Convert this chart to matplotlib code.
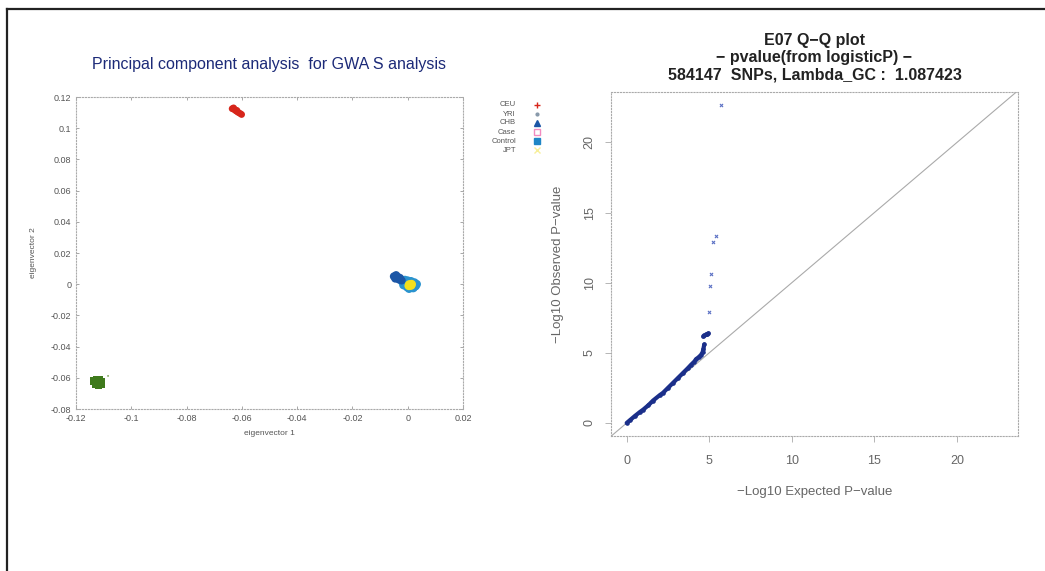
import numpy as np
import matplotlib.pyplot as plt
from matplotlib.lines import Line2D

plt.rcParams['font.family'] = ['Liberation Sans', 'DejaVu Sans']

# PCA clusters (eigenvector 1, eigenvector 2)
ceu_x = [-0.0635, -0.0630, -0.0626, -0.0622, -0.0617, -0.0612, -0.0606, -0.0601, -0.0628, -0.0618]
ceu_y = [0.1125, 0.1130, 0.1118, 0.1112, 0.1106, 0.1100, 0.1094, 0.1088, 0.1122, 0.1114]
yri_x = [-0.1135, -0.1125, -0.1115, -0.1108, -0.1130, -0.1118, -0.1110, -0.1122]
yri_y = [-0.0620, -0.0610, -0.0615, -0.0625, -0.0640, -0.0645, -0.0638, -0.0630]
yri_stray_x = [-0.1084]
yri_stray_y = [-0.0588]
chb_x = [-0.0050, -0.0042, -0.0035, -0.0028, -0.0045, -0.0032, -0.0022]
chb_y = [0.0050, 0.0058, 0.0046, 0.0040, 0.0036, 0.0030, 0.0024]
case_x = [0.0000, 0.0010, 0.0020]
case_y = [0.0000, -0.0005, -0.0010]
ctrl_x = [-0.0020, -0.0010, 0.0000, 0.0012, 0.0024, 0.0032, 0.0028, 0.0012, -0.0002, -0.0015, 0.0005, 0.0020]
ctrl_y = [0.0018, 0.0026, 0.0022, 0.0018, 0.0010, 0.0000, -0.0012, -0.0020, -0.0018, -0.0005, -0.0028, -0.0024]
jpt_x = [0.0006, 0.0012, 0.0004, 0.0014]
jpt_y = [-0.0002, -0.0008, -0.0010, 0.0000]

pca_xticks = [-0.12, -0.1, -0.08, -0.06, -0.04, -0.02, 0, 0.02]
pca_yticks = [0.12, 0.1, 0.08, 0.06, 0.04, 0.02, 0, -0.02, -0.04, -0.06, -0.08]

# Q-Q plot: (expected, observed) -log10 p along the main curve, then the outliers
qq_exp = [0.0, 0.2, 0.5, 0.8, 1.0, 1.3, 1.6, 2.0, 2.2, 2.5, 2.8, 3.1, 3.4, 3.7, 3.9,
          4.1, 4.2, 4.35, 4.5, 4.6, 4.65, 4.7]
qq_obs = [0.0, 0.2, 0.5, 0.78, 0.95, 1.25, 1.6, 1.98, 2.15, 2.5, 2.85, 3.2, 3.55, 3.9, 4.15,
          4.38, 4.55, 4.68, 4.85, 5.05, 5.3, 5.6]
qq_cluster_exp = [4.62, 4.7, 4.78, 4.86, 4.94]
qq_cluster_obs = [6.22, 6.30, 6.34, 6.36, 6.38]
out_exp = [4.97, 5.05, 5.13, 5.25, 5.43, 5.74]
out_obs = [7.88, 9.74, 10.62, 12.9, 13.3, 22.7]

fig = plt.figure(figsize=(10.45, 5.71), dpi=100)

# ---------------- PCA panel ----------------
ax1 = fig.add_axes([76/1045, 1-409/571, 387/1045, 312/571])
ax1.scatter(yri_x, yri_y, s=30, marker='s', color='#3f7a1c', edgecolors='none')
ax1.scatter(yri_stray_x, yri_stray_y, s=2, marker='o', color='#8fb070', edgecolors='none')
ax1.scatter(ceu_x, ceu_y, s=24, marker='o', color='#d7261b', edgecolors='none')
ax1.scatter(case_x, case_y, s=20, marker='s', facecolors='none', edgecolors='#f28bc0')
ax1.scatter(ctrl_x, ctrl_y, s=40, marker='o', color='#2a93cf', edgecolors='none')
ax1.scatter(chb_x, chb_y, s=34, marker='o', color='#1b56a6', edgecolors='none')
ax1.scatter(jpt_x, jpt_y, s=40, marker='o', color='#f4e01b', edgecolors='none')
ax1.set_xlim(-0.12, 0.02)
ax1.set_ylim(-0.08, 0.12)
ax1.set_xticks(pca_xticks)
ax1.set_xticklabels([f'{t:g}' for t in pca_xticks])
ax1.set_yticks(pca_yticks)
ax1.set_yticklabels([f'{t:g}' for t in pca_yticks])
ax1.tick_params(direction='in', length=2.5, width=0.6, colors='#999999', labelcolor='#555555',
                labelsize=6.5, top=True, right=True)
for sp in ax1.spines.values():
    sp.set_linestyle(':')
    sp.set_color('#aaaaaa')
    sp.set_linewidth(0.8)
ax1.set_xlabel('eigenvector 1', fontsize=6, color='#555555', labelpad=5)
ax1.set_ylabel('eigenvector 2', fontsize=6, color='#555555', labelpad=10)
ax1.set_title('Principal component analysis  for GWA S analysis', fontsize=11.5,
              color='#1c2a78', pad=20)

# legend drawn by hand: labels right-aligned, markers to their right
leg_labels = ['CEU', 'YRI', 'CHB', 'Case', 'Control', 'JPT']
leg_markers = ['+', '.', '^', 's', 's', 'x']
leg_colors = ['#d7261b', '#8899aa', '#1b56a6', '#f28bc0', '#1f86c6', '#f7ef9a']
leg_fill = [True, True, True, False, True, True]
leg_rows = [105, 114, 123, 132, 141, 150]
for lab, mk, col, fill, ypx in zip(leg_labels, leg_markers, leg_colors, leg_fill, leg_rows):
    fy = 1 - ypx/571
    fig.text(516/1045, fy, lab, ha='right', va='center', fontsize=5.5, color='#555555')
    fig.add_artist(Line2D([537/1045], [fy], marker=mk, markersize=4,
                          color=col, markerfacecolor=col if fill else 'none',
                          markeredgecolor=col, linestyle='none'))

# ---------------- Q-Q panel ----------------
ax2 = fig.add_axes([611/1045, 1-436/571, 407/1045, 344/571])
ax2.axline((0, 0), slope=1, color='#aaaaaa', lw=0.8)
ax2.plot(qq_exp, qq_obs, color='#1b2f8a', lw=3.0, marker='o', markersize=2.3,
         solid_capstyle='round')
ax2.plot(qq_cluster_exp, qq_cluster_obs, color='#1b2f8a', lw=2.5, marker='o', markersize=2.5,
         linestyle='none')
ax2.scatter(out_exp, out_obs, s=5, marker='x', color='#5a70c4', linewidths=0.8)
ax2.set_xlim(-0.95, 23.7)
ax2.set_ylim(-0.93, 23.6)
ax2.set_xticks([0, 5, 10, 15, 20])
ax2.set_yticks([0, 5, 10, 15, 20])
ax2.tick_params(direction='out', length=4, width=0.6, colors='#aaaaaa', labelcolor='#666666',
                labelsize=9, pad=10)
ax2.tick_params(axis='y', pad=7)
for lab in ax2.get_yticklabels():
    lab.set_rotation(90)
    lab.set_va('center')
for sp in ax2.spines.values():
    sp.set_linestyle(':')
    sp.set_color('#aaaaaa')
    sp.set_linewidth(0.8)
ax2.set_xlabel('\u2212Log10 Expected P\u2212value', fontsize=9.5, color='#666666', labelpad=13)
ax2.set_ylabel('\u2212Log10 Observed P\u2212value', fontsize=9.5, color='#666666', labelpad=14)
ax2.set_title('E07 Q\u2212Q plot\n\u2212 pvalue(from logisticP) \u2212\n584147  SNPs, Lambda_GC :  1.087423',
              fontsize=11.5, fontweight='bold', color='#222222', linespacing=1.2, pad=9)

# frame lines of the screenshot
fig.add_artist(Line2D([7/1045, 1], [1-9/571, 1-9/571], color='#222222', lw=1.6))
fig.add_artist(Line2D([7/1045, 7/1045], [0, 1-9/571], color='#222222', lw=1.6))

fig.savefig('out.png', dpi=100)
